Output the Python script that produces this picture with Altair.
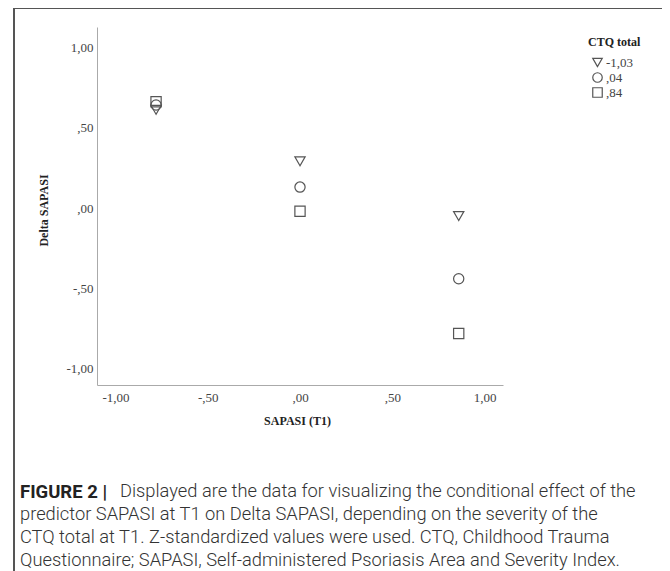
import altair as alt
import pandas as pd

# ---- data ----
sapasi_t1 = [-0.78, 0.0, 0.86]
ctq_levels = ["-1,03", ",04", ",84"]
ctq_shapes = ["triangle-down", "circle", "square"]
delta_low = [0.61, 0.29, -0.05]    # CTQ -1,03
delta_mid = [0.64, 0.13, -0.44]    # CTQ ,04
delta_high = [0.66, -0.02, -0.78]  # CTQ ,84
x_ticks = [-1.0, -0.5, 0.0, 0.5, 1.0]
y_ticks = [-1.0, -0.5, 0.0, 0.5, 1.0]

caption_bold = "FIGURE 2 |"
caption_lines = [
    "Displayed are the data for visualizing the conditional effect of the",
    "predictor SAPASI at T1 on Delta SAPASI, depending on the severity of the",
    "CTQ total at T1. Z-standardized values were used. CTQ, Childhood Trauma",
    "Questionnaire; SAPASI, Self-administered Psoriasis Area and Severity Index.",
]

rows = []
for lvl, vals in zip(ctq_levels, [delta_low, delta_mid, delta_high]):
    for xv, yv in zip(sapasi_t1, vals):
        rows.append({"SAPASI (T1)": xv, "Delta SAPASI": yv, "CTQ total": lvl})
df = pd.DataFrame(rows)

label_expr = ("(datum.value < 0 ? '-' : '') + "
              "replace(replace(format(abs(datum.value), '.2f'), '0.', '.'), '.', ',')")

W, H = 406, 358

points = alt.Chart(df).mark_point(
    filled=False, size=105, strokeWidth=1.2, color="#555555", opacity=1
).encode(
    x=alt.X("SAPASI (T1):Q",
            scale=alt.Scale(domain=[-1.1, 1.1], nice=False, zero=False),
            axis=alt.Axis(values=x_ticks, labelExpr=label_expr, labelPadding=6,
                          titleX=200, titleY=35, titleBaseline="middle",
                          titleAlign="center")),
    y=alt.Y("Delta SAPASI:Q",
            scale=alt.Scale(domain=[-1.1, 1.125], nice=False, zero=False),
            axis=alt.Axis(values=y_ticks, labelExpr=label_expr, labelPadding=4,
                          titleX=-54, titleY=183, titleAngle=270,
                          titleBaseline="middle", titleAlign="center")),
    shape=alt.Shape("CTQ total:N",
                    scale=alt.Scale(domain=ctq_levels, range=ctq_shapes),
                    legend=alt.Legend(orient="none", legendX=491, legendY=10,
                                      titleFont="Liberation Serif", titleFontSize=12,
                                      titleFontWeight="bold", titleColor="#222222",
                                      titlePadding=7, labelFont="Liberation Serif",
                                      labelFontSize=13, labelColor="#444444",
                                      labelOffset=2, rowPadding=0,
                                      symbolSize=90, symbolStrokeWidth=1.2,
                                      symbolStrokeColor="#555555",
                                      symbolFillColor="transparent",
                                      symbolOffset=3)),
)

one = pd.DataFrame({"k": [0]})

frame = alt.Chart(one).mark_rect(
    fill="transparent", stroke="#555555", strokeWidth=2
).encode(x=alt.value(-83), x2=alt.value(568), y=alt.value(-19), y2=alt.value(580))

cap_y = [465, 488, 511, 534]
caps = [
    alt.Chart(one).mark_text(align="left", baseline="middle", font="Roboto",
                             fontSize=18.5, fontWeight="bold", color="#222222")
    .encode(x=alt.value(-77), y=alt.value(cap_y[0]), text=alt.value(caption_bold))
]
for i, line in enumerate(caption_lines):
    caps.append(
        alt.Chart(one).mark_text(align="left", baseline="middle", font="Roboto",
                                 fontSize=18.3, fontWeight=300, color="#333333")
        .encode(x=alt.value(23 if i == 0 else -77), y=alt.value(cap_y[i]),
                text=alt.value(line))
    )

chart = alt.layer(frame, points, *caps).properties(
    width=W, height=H,
    autosize=alt.AutoSizeParams(type="none"),
    padding={"left": 89, "top": 19, "right": 159, "bottom": 186},
    background="white",
).configure_view(stroke=None).configure_axis(
    grid=False, ticks=False, domainColor="#aaaaaa", domainWidth=1,
    labelFont="Liberation Serif", labelFontSize=13, labelColor="#444444",
    titleFont="Liberation Serif", titleFontSize=12, titleFontWeight="bold",
    titleColor="#222222",
)

chart.save("out.html", embed_options={"renderer": "svg", "actions": False})
